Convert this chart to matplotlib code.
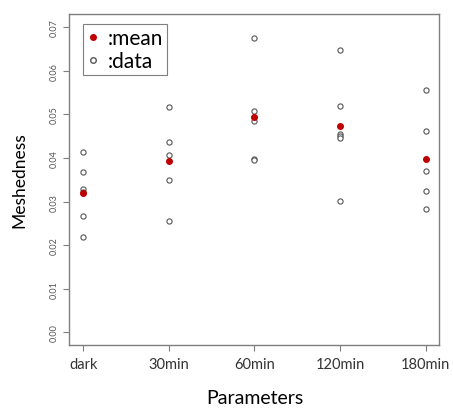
import matplotlib
matplotlib.use('Agg')
import matplotlib.pyplot as plt
from matplotlib.lines import Line2D

# Data
groups = ['dark', '30min', '60min', '120min', '180min']
data_dark = [0.0413, 0.0367, 0.0330, 0.0322, 0.0266, 0.0218]
data_30 = [0.0516, 0.0436, 0.0407, 0.0349, 0.0256]
data_60 = [0.0675, 0.0507, 0.0485, 0.0398, 0.0395]
data_120 = [0.0648, 0.0518, 0.0455, 0.0450, 0.0445, 0.0302]
data_180 = [0.0556, 0.0462, 0.0371, 0.0325, 0.0283]
means = [0.0319, 0.0392, 0.0493, 0.0474, 0.0397]
y_ticks = [0.00, 0.01, 0.02, 0.03, 0.04, 0.05, 0.06, 0.07]

plt.rcParams['font.family'] = ['Lato', 'DejaVu Sans']

fig = plt.figure(figsize=(4.53, 4.10), dpi=100)
ax = fig.add_axes([0.1534, 0.1568, 0.8166, 0.8066])

gray = '#7f7f7f'
for i, vals in enumerate([data_dark, data_30, data_60, data_120, data_180]):
    ax.scatter([i + 1] * len(vals), vals, s=14, facecolors='white',
               edgecolors='#555555', linewidths=0.8, zorder=3)
ax.scatter(range(1, 6), means, s=16, color='#c00000', zorder=4)

ax.set_xlim(1 - 0.16, 5 + 0.16)
ax.set_ylim(-0.0028, 0.0730)
ax.set_xticks(range(1, 6))
ax.set_xticklabels(groups, fontsize=10.5, color='#333333')
ax.set_yticks(y_ticks)
ax.set_yticklabels([f'{t:.2f}' for t in y_ticks], rotation=90, va='center',
                   fontsize=6.5, color='#555555')
ax.tick_params(colors=gray, length=4, width=0.8)
ax.tick_params(axis='x', labelcolor='#333333', pad=5)
ax.tick_params(axis='y', labelcolor='#555555', pad=4)
for s in ax.spines.values():
    s.set_color(gray)
    s.set_linewidth(1.0)

ax.set_xlabel('Parameters', fontsize=14, labelpad=13)
ax.set_ylabel('Meshedness', fontsize=12.5, labelpad=16)

handles = [
    Line2D([], [], marker='o', linestyle='none', color='#c00000', markersize=4),
    Line2D([], [], marker='o', linestyle='none', markerfacecolor='white',
           markeredgecolor='#555555', markersize=4),
]
leg = ax.legend(handles, [':mean', ':data'], loc='upper left',
                bbox_to_anchor=(0.036, 0.970), borderaxespad=0,
                fancybox=False, fontsize=15, handlelength=0.6,
                handletextpad=0.4, labelspacing=0.15, borderpad=0.2,
                edgecolor=gray, framealpha=1)
leg.get_frame().set_linewidth(0.8)

fig.savefig('out.png', dpi=100, facecolor='white')
